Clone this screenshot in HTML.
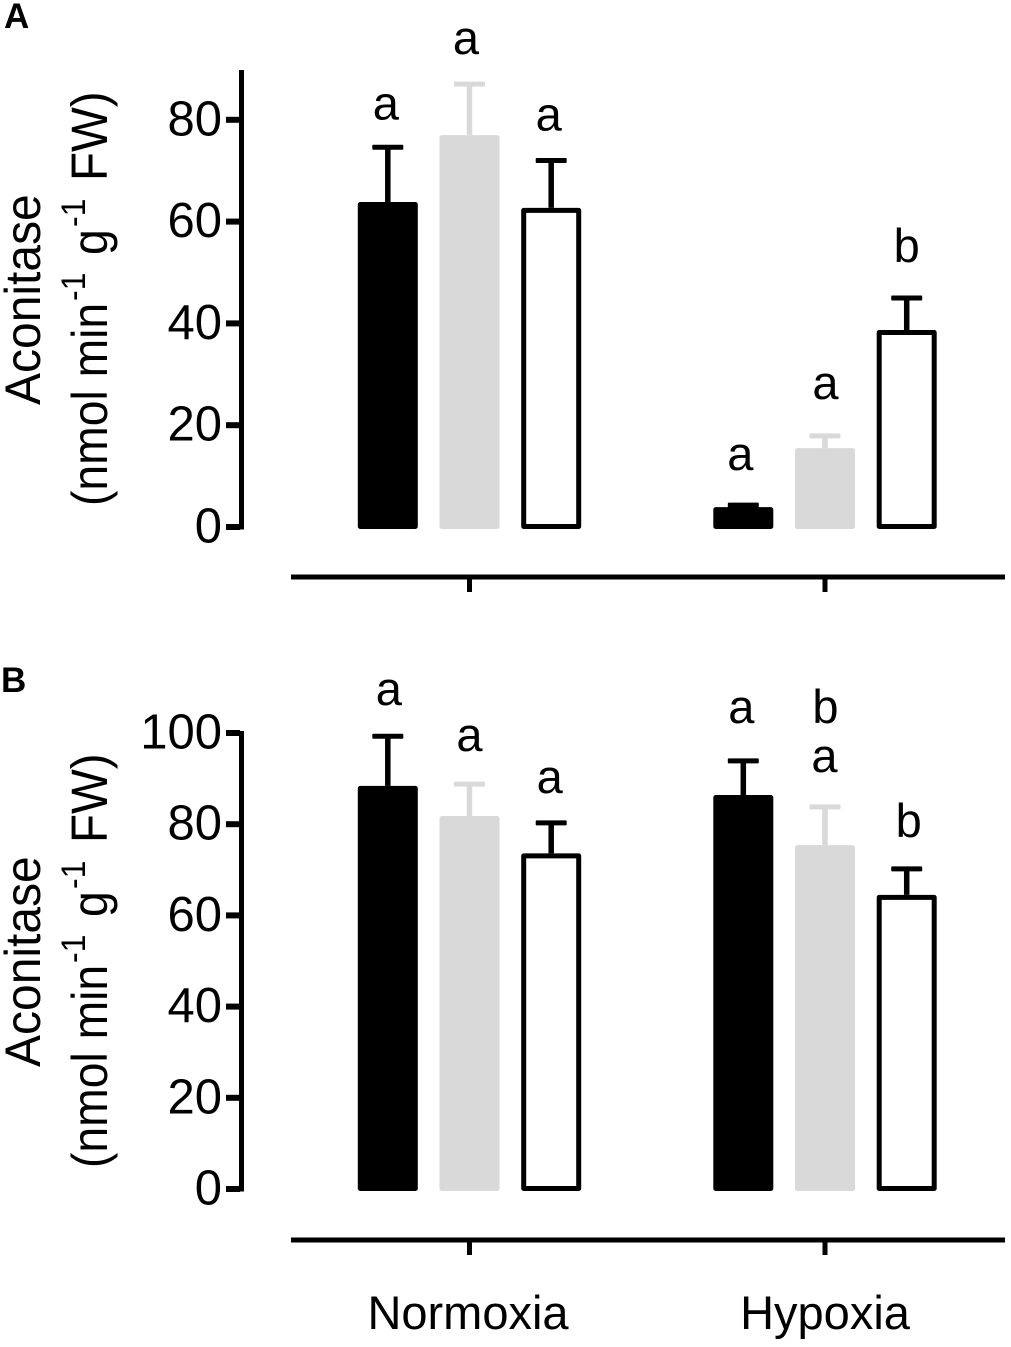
<!DOCTYPE html>
<html lang="en">
<head>
<meta charset="utf-8">
<title>Aconitase activity under normoxia and hypoxia</title>
<style>
html,body{margin:0;padding:0;background:#fff;}
svg{display:block;}
text{font-family:"Liberation Sans",sans-serif;fill:#000;}
</style>
</head>
<body>
<svg id="chart" xmlns="http://www.w3.org/2000/svg" width="1011" height="1347" viewBox="0 0 1011 1347">
  <rect width="1011" height="1347" fill="#fff"/>
  <text x="4" y="28" font-size="35" font-weight="bold">A</text>
  <text x="1" y="692" font-size="35" font-weight="bold">B</text>

  <text transform="translate(40,405) rotate(-90) scale(1,1.05)" font-size="48">Aconitase</text>
  <text transform="translate(107,506) rotate(-90) scale(1,1.08)" font-size="46.3">(nmol min<tspan x="205" y="-20.5" font-size="32">-1</tspan><tspan x="251" y="0">g</tspan><tspan x="279" y="-20.5" font-size="32">-1</tspan><tspan x="325" y="0" font-size="47.5">FW)</tspan></text>

  <text transform="translate(40,1067) rotate(-90) scale(1,1.05)" font-size="48">Aconitase</text>
  <text transform="translate(107,1168) rotate(-90) scale(1,1.08)" font-size="46.3">(nmol min<tspan x="205" y="-20.5" font-size="32">-1</tspan><tspan x="251" y="0">g</tspan><tspan x="279" y="-20.5" font-size="32">-1</tspan><tspan x="325" y="0" font-size="47.5">FW)</tspan></text>

  <text x="468" y="1329" font-size="47" text-anchor="middle">Normoxia</text>
  <text x="825" y="1329" font-size="47" text-anchor="middle">Hypoxia</text>
</svg>
<script>
// Data: three bars per oxygen condition (black, grey, white)
const panelATicks = [0, 20, 40, 60, 80];
const panelAMeans = [63.85, 77, 62.7, 3.9, 15.5, 38.7];
const panelAErrorTops = [74.6, 87, 72, 4.3, 17.9, 45];
const panelALetters = ["a", "a", "a", "a", "a", "b"];

const panelBTicks = [0, 20, 40, 60, 80, 100];
const panelBMeans = [88.4, 81.8, 73.6, 86.4, 75.4, 64.5];
const panelBErrorTops = [99.3, 88.8, 80.3, 93.9, 83.8, 70.2];
const panelBLetters = ["a", "a", "a", "a", "a", "b"];
const panelBExtraLetter = "b";

const svg = document.getElementById('chart');
const NS = 'http://www.w3.org/2000/svg';
const BLACK = '#000';
const GREY = '#d9d9d9';
const BAR_W = 60;
const CAP_W = 31;
const LINE = 5;
const GROUP_X = [469.5, 825];
const BAR_STEP = 81.7;

function make(tag, attrs) {
  const el = document.createElementNS(NS, tag);
  for (const k in attrs) el.setAttribute(k, attrs[k]);
  svg.appendChild(el);
  return el;
}

function drawPanel(p) {
  const y = v => p.zeroY - v * p.pxPerUnit;

  const axis = make('rect', {x: 239, y: p.axisTop, width: LINE, height: p.zeroY + 2.5 - p.axisTop, fill: BLACK});
  
  

  p.ticks.forEach(t => {
    const tick = make('rect', {x: 226, y: y(t) - 3, width: 14, height: 6, fill: BLACK});
    
    
    const label = make('text', {x: 222, y: y(t) + 15.5, 'font-size': 49, 'text-anchor': 'end'});
    label.textContent = t;
    
    
  });

  const xAxis = make('rect', {x: 291, y: p.xAxisY - 2.5, width: 714, height: LINE, fill: BLACK});
  
  

  GROUP_X.forEach((gx, g) => {
    const tick = make('rect', {x: gx - 2.5, y: p.xAxisY, width: LINE, height: 15, fill: BLACK});
    
    
  });

  p.means.forEach((m, i) => {
    const g = Math.floor(i / 3);
    const s = i % 3;
    const cx = GROUP_X[g] + (s - 1) * BAR_STEP;
    const colour = s === 1 ? GREY : BLACK;
    const errY = y(p.errorTops[i]);
    const barY = y(m);

    const stem = make('rect', {x: cx - 2.75, y: errY, width: 5.5, height: Math.max(0, barY - errY), fill: colour});
    
    

    const cap = make('rect', {x: cx - CAP_W / 2, y: errY - 2.5, width: CAP_W, height: LINE, rx: 1, fill: colour});
    
    

    const bar = make('rect', {
      x: cx - BAR_W / 2 + 2.5,
      y: barY + 2.5,
      width: BAR_W - LINE,
      height: Math.max(0, p.zeroY - barY - 3),
      fill: s === 2 ? '#fff' : colour,
      stroke: colour,
      'stroke-width': LINE,
      'stroke-linejoin': 'round'
    });
    
    

    const letter = make('text', {x: cx + p.labelShifts[i], y: errY - p.labelGaps[i], 'font-size': 47, 'text-anchor': 'middle'});
    letter.textContent = p.letters[i];
    
    

    if (p.extraOn === i) {
      const extra = make('text', {x: cx + p.labelShifts[i] + 1, y: errY - p.labelGaps[i] - 49, 'font-size': 47, 'text-anchor': 'middle'});
      extra.textContent = p.extraLetter;
      
      
    }
  });
}

drawPanel({
  id: 'panel-a', zeroY: 527, pxPerUnit: 5.09, axisTop: 70, xAxisY: 577,
  ticks: panelATicks, means: panelAMeans, errorTops: panelAErrorTops, letters: panelALetters,
  labelGaps: [28, 30, 30, 35, 37, 36], labelShifts: [-2, -3.5, -2.5, -3, 0.5, 0], extraOn: -1
});
drawPanel({
  id: 'panel-b', zeroY: 1189, pxPerUnit: 4.56, axisTop: 731, xAxisY: 1240,
  ticks: panelBTicks, means: panelBMeans, errorTops: panelBErrorTops, letters: panelBLetters,
  labelGaps: [31, 33, 30, 38, 34.7, 32], labelShifts: [1, 0, -1.5, -2, -0.5, 2], extraOn: 4, extraLetter: panelBExtraLetter
});
</script>
</body>
</html>
